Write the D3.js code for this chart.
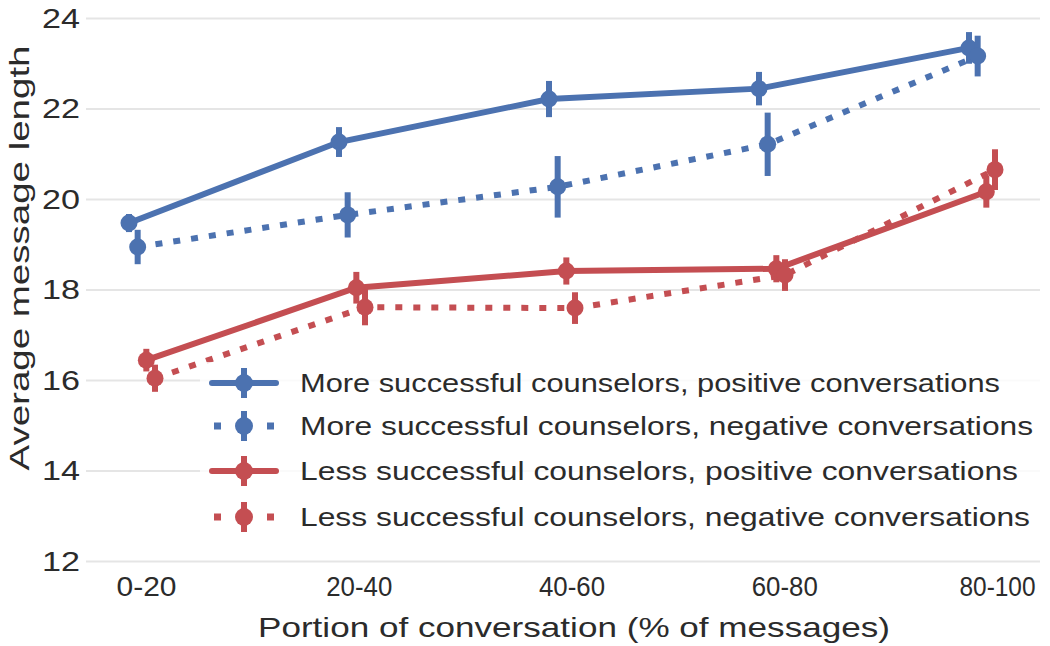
<!DOCTYPE html>
<html><head><meta charset="utf-8">
<script src="https://cdn.jsdelivr.net/npm/d3@7"></script>
<style>body{margin:0;background:#fff}svg{display:block}text{font-family:"Liberation Sans",Arial,sans-serif}</style>
</head><body><svg id="c" width="1050" height="646"></svg>
<script>
const categories = ["0-20","20-40","40-60","60-80","80-100"];
const seriesNames = [
  "More successful counselors, positive conversations",
  "More successful counselors, negative conversations",
  "Less successful counselors, positive conversations",
  "Less successful counselors, negative conversations"
];
const moreSuccPos = [19.48, 21.27, 22.22, 22.45, 23.35];
const moreSuccNeg = [18.95, 19.66, 20.28, 21.22, 23.17];
const lessSuccPos = [16.45, 18.05, 18.42, 18.47, 20.17];
const lessSuccNeg = [16.05, 17.62, 17.6, 18.33, 20.66];
const moreSuccPosErr = [0.2, 0.33, 0.4, 0.37, 0.35];
const moreSuccNegErr = [0.38, 0.5, 0.68, 0.7, 0.45];
const lessSuccPosErr = [0.25, 0.35, 0.3, 0.3, 0.35];
const lessSuccNegErr = [0.3, 0.4, 0.35, 0.35, 0.45];
const yTicks = [12,14,16,18,20,22,24];
const colors = ["#4C72B0","#4C72B0","#C44E52","#C44E52"];
const dashed = [false,true,false,true];

// rendered text widths (to mimic the stretched original typography)
const xTickWidths = [60, 66, 66, 66, 76];
const legendWidths = [700, 733, 718, 730];

const series = [
  {name:seriesNames[0], v:moreSuccPos, e:moreSuccPosErr},
  {name:seriesNames[1], v:moreSuccNeg, e:moreSuccNegErr},
  {name:seriesNames[2], v:lessSuccPos, e:lessSuccPosErr},
  {name:seriesNames[3], v:lessSuccNeg, e:lessSuccNegErr}
];

const svg = d3.select("#c");
const x = d3.scalePoint().domain(categories).range([142, 982]);
const xLab = d3.scalePoint().domain(categories).range([146, 997]);
const dodge = d3.scalePoint().domain(d3.range(4)).range([-13, 13]);
const y = d3.scaleLinear().domain([12, 24]).range([561.5, 18.5]);

// gridlines
svg.append("g").selectAll("line").data(yTicks).join("line")
  .attr("x1", 86).attr("x2", 1040)
  .attr("y1", d => y(d)).attr("y2", d => y(d))
  .attr("stroke", "#e5e5e5").attr("stroke-width", 2);

// y axis
const yAxis = svg.append("g").attr("transform","translate(86,0)")
  .call(d3.axisLeft(y).tickValues(yTicks).tickSize(0).tickPadding(6));
yAxis.select(".domain").remove();
yAxis.selectAll("text").attr("font-size", 27).attr("fill", "#2b2b2b")
  .attr("textLength", 38).attr("lengthAdjust", "spacingAndGlyphs")
  .style("font-family", '"Liberation Sans",Arial,sans-serif');

// x axis
const xAxis = svg.append("g").attr("transform","translate(0,561)")
  .call(d3.axisBottom(xLab).tickSize(0).tickPadding(16));
xAxis.select(".domain").remove();
xAxis.selectAll("text").attr("font-size", 27).attr("fill", "#2b2b2b")
  .attr("textLength", (d, i) => xTickWidths[i]).attr("lengthAdjust", "spacingAndGlyphs")
  .style("font-family", '"Liberation Sans",Arial,sans-serif');

// axis titles
svg.append("text").attr("x", 574).attr("y", 637).attr("text-anchor","middle")
  .attr("font-size", 28).attr("fill", "#2b2b2b")
  .attr("textLength", 632).attr("lengthAdjust", "spacingAndGlyphs")
  .text("Portion of conversation (% of messages)");
svg.append("text").attr("transform","translate(29,258) rotate(-90)")
  .attr("text-anchor","middle").attr("font-size", 28).attr("fill","#2b2b2b")
  .attr("textLength", 425).attr("lengthAdjust", "spacingAndGlyphs")
  .text("Average message length");

// lines
const plot = svg.append("g");
series.forEach((s, i) => {
  const pts = categories.map((c, j) => ({x: x(c) + dodge(i), v: s.v[j], e: s.e[j]}));
  const line = d3.line().x(d => d.x).y(d => y(d.v));
  plot.append("path").datum(pts).attr("d", line)
    .attr("fill","none").attr("stroke", colors[i]).attr("stroke-width", 6)
    .attr("stroke-dasharray", dashed[i] ? "7,11" : null);
  plot.append("g").selectAll("line").data(pts).join("line")
    .attr("x1", d => d.x).attr("x2", d => d.x)
    .attr("y1", d => y(d.v - d.e)).attr("y2", d => y(d.v + d.e))
    .attr("stroke", colors[i]).attr("stroke-width", 6);
  plot.append("g").selectAll("circle").data(pts).join("circle")
    .attr("cx", d => d.x).attr("cy", d => y(d.v)).attr("r", 8.5)
    .attr("fill", colors[i]);
});

// legend
const lg = svg.append("g");
lg.append("rect").attr("x", 200).attr("y", 362).attr("width", 840).attr("height", 176)
  .attr("fill", "#fff").attr("opacity", 0.8);
const rowY = [383, 426, 471, 517];
series.forEach((s, i) => {
  const g = lg.append("g").attr("transform", `translate(0,${rowY[i]})`);
  if (dashed[i]) {
    g.append("rect").attr("x", 214).attr("y", -3.5).attr("width", 7).attr("height", 7).attr("fill", colors[i]);
    g.append("rect").attr("x", 267).attr("y", -3.5).attr("width", 7).attr("height", 7).attr("fill", colors[i]);
  } else {
    g.append("line").attr("x1", 212).attr("x2", 276).attr("y1", 0).attr("y2", 0)
      .attr("stroke", colors[i]).attr("stroke-width", 6).attr("stroke-linecap","round");
  }
  g.append("line").attr("x1", 244).attr("x2", 244).attr("y1", -15).attr("y2", 15)
    .attr("stroke", colors[i]).attr("stroke-width", 6);
  g.append("circle").attr("cx", 244).attr("cy", 0).attr("r", 9).attr("fill", colors[i]);
  g.append("text").attr("x", 300).attr("y", 0).attr("dy", "0.35em")
    .attr("font-size", 26).attr("fill", "#2b2b2b")
    .attr("textLength", legendWidths[i]).attr("lengthAdjust", "spacingAndGlyphs")
    .text(s.name);
});
</script></body></html>
